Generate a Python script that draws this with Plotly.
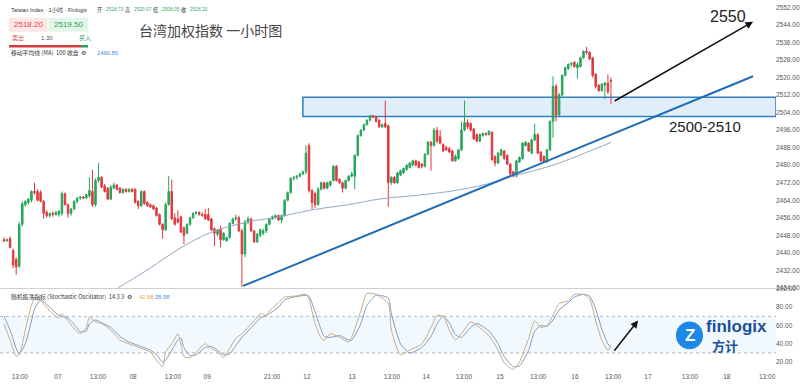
import plotly.graph_objects as go

# ---------------- data ----------------
opens = [2446, 2445.5, 2446.5, 2441, 2437, 2434, 2453, 2462, 2463, 2464,
         2468, 2468, 2467.5, 2463.5, 2458.5, 2457, 2458, 2457.5, 2457.5, 2458,
         2467, 2462, 2458, 2460, 2463.5, 2465, 2465.5, 2465, 2466, 2468,
         2462, 2473, 2474.5, 2470.5, 2469.5, 2464.5, 2469.5, 2471, 2469.5, 2467.5,
         2469, 2468, 2469, 2469, 2463.5, 2461.5, 2468, 2463, 2462, 2461.5,
         2460.5, 2457.5, 2453, 2450.5, 2462, 2468, 2456, 2455.5, 2456.5, 2451.5,
         2449, 2453, 2456, 2458, 2458.5, 2457.5, 2457.5, 2457.5, 2455.5, 2451,
         2448.5, 2451, 2446, 2445.5, 2447, 2453.5, 2455.5, 2456, 2450, 2439.5,
         2454, 2455.5, 2450, 2445, 2448, 2449, 2450, 2453, 2455.5, 2456,
         2457, 2455, 2457, 2464, 2467.5, 2474, 2474.5, 2475, 2476, 2477,
         2489, 2468.5, 2467, 2462, 2469, 2472, 2469.5, 2471, 2473, 2479.5,
         2473.5, 2472, 2469.5, 2473, 2475, 2475, 2484.5, 2493.5, 2496, 2498.5,
         2500.5, 2502.5, 2502, 2500.5, 2497.5, 2499, 2498, 2472, 2474.5, 2472,
         2475.5, 2476.5, 2478, 2479, 2480, 2482, 2481.5, 2480.5, 2479.5, 2485,
         2490.5, 2489, 2496, 2493, 2489.5, 2488, 2487.5, 2486.5, 2482, 2483,
         2487, 2496, 2499.5, 2499, 2496.5, 2494, 2491, 2493.5, 2494.5, 2494,
         2495, 2484, 2481, 2484.5, 2486.5, 2484.5, 2480.5, 2477, 2475, 2481.5,
         2483, 2489, 2490, 2485.5, 2491.5, 2494, 2486, 2484, 2481.5, 2487,
         2500, 2516, 2503, 2512, 2521, 2524, 2526, 2527, 2524.5, 2525,
         2529, 2532, 2531.5, 2529, 2521.5, 2516.5, 2514, 2516.5, 2517.5, 2518.7]
highs = [2447, 2446.5, 2447.5, 2442, 2438, 2454, 2463.5, 2464, 2465, 2468.5,
         2472, 2469, 2468.5, 2464, 2459.5, 2458.5, 2459, 2459, 2459.5, 2468,
         2467.5, 2462.5, 2460.5, 2464, 2465.5, 2466, 2466, 2467, 2474.5, 2478,
         2474, 2481, 2475, 2471.5, 2470, 2471, 2472, 2471.5, 2470, 2469.5,
         2469.5, 2469.5, 2469.5, 2469.5, 2464, 2468.5, 2468.5, 2463.5, 2462.5, 2462,
         2461, 2458, 2453.5, 2463, 2475, 2473.5, 2458, 2459.5, 2457, 2452,
         2453.5, 2456.5, 2458.5, 2459, 2459, 2458.5, 2460, 2460.5, 2456, 2451.5,
         2451, 2452.5, 2449.5, 2447.5, 2454, 2456, 2457.5, 2457, 2451, 2455,
         2456.5, 2456, 2450.5, 2449, 2451, 2451, 2453.5, 2456, 2457, 2457.5,
         2457.5, 2457.5, 2464.5, 2468, 2474.5, 2475, 2475.5, 2476.5, 2477.5, 2489,
         2490, 2469, 2468, 2470, 2472.5, 2472.5, 2472.5, 2473, 2480, 2480,
         2474, 2472.5, 2473.5, 2475.5, 2477, 2485, 2494, 2496.5, 2499, 2501,
         2503, 2503, 2502.5, 2501, 2499, 2509.5, 2498.5, 2475, 2475, 2477,
         2478, 2479, 2480.5, 2481.5, 2482.5, 2482.5, 2482, 2481, 2485.5, 2491,
         2491, 2497, 2497.5, 2496, 2490, 2489, 2488.5, 2487, 2485, 2487.5,
         2500, 2509.5, 2501, 2499.5, 2497, 2494.5, 2494.5, 2495, 2495, 2496,
         2495.5, 2484.5, 2486, 2487.5, 2487, 2485, 2481, 2477.5, 2482.5, 2484,
         2490.5, 2491, 2490.5, 2492, 2499, 2494.5, 2486.5, 2484.5, 2487.5, 2500.5,
         2520.5, 2517, 2513, 2521.5, 2525, 2526.5, 2527, 2527.5, 2527, 2529.5,
         2532.5, 2534, 2532, 2529.5, 2522, 2517, 2517.5, 2518, 2521.5, 2520.07]
lows = [2445, 2445, 2442, 2433, 2430, 2433, 2452, 2461, 2462, 2463,
        2466.5, 2463.5, 2463, 2455.5, 2456, 2456, 2456.5, 2457, 2456.5, 2457,
        2461.5, 2456, 2457, 2459.5, 2462.5, 2464, 2464.5, 2464.5, 2465, 2461,
        2461, 2472, 2469.5, 2467.5, 2464, 2464, 2469, 2468.5, 2467, 2467,
        2467.5, 2467.5, 2467.5, 2462.5, 2460, 2461, 2462, 2461, 2460.5, 2459.5,
        2456.5, 2452.5, 2446.5, 2450, 2461.5, 2455, 2452.5, 2453.5, 2449, 2444,
        2448.5, 2452.5, 2455.5, 2457.5, 2457, 2456.5, 2455, 2454.5, 2450, 2443,
        2447.5, 2442.5, 2445.5, 2445, 2446.5, 2453, 2454.5, 2449.5, 2424.5, 2438,
        2453, 2449.5, 2444.5, 2444.5, 2447, 2448, 2449, 2452.5, 2455, 2455.5,
        2454.5, 2453.5, 2456.5, 2463.5, 2467, 2473, 2473.5, 2474.5, 2475.5, 2476,
        2467.5, 2460, 2460.5, 2461.5, 2468.5, 2469, 2469, 2470, 2472.5, 2472.5,
        2471.5, 2467.5, 2469, 2472.5, 2474.5, 2469, 2484, 2493, 2495.5, 2498,
        2500, 2501.5, 2499.5, 2497, 2497, 2497, 2461, 2471, 2471.5, 2471.5,
        2475, 2476, 2477.5, 2478.5, 2479.5, 2479.5, 2478.5, 2478.5, 2479, 2484.5,
        2477.5, 2488.5, 2490, 2489.5, 2486, 2486.5, 2485.5, 2481.5, 2481.5, 2482.5,
        2486.5, 2495.5, 2496.5, 2495.5, 2491.5, 2490.5, 2490.5, 2493, 2493.5, 2493.5,
        2482, 2479.5, 2480.5, 2484, 2482.5, 2480, 2475, 2474.5, 2474.5, 2481,
        2482.5, 2488.5, 2486, 2485, 2491, 2485, 2481.5, 2481, 2481, 2486.5,
        2492.5, 2500, 2502.5, 2511.5, 2520.5, 2523.5, 2525, 2524.5, 2519.5, 2524.5,
        2528.5, 2530.5, 2528, 2520, 2515, 2513.5, 2513.5, 2510, 2512.5, 2508.05]
closes = [2445.5, 2446, 2442.5, 2434.5, 2433.5, 2453, 2462.5, 2463.5, 2464.5, 2468,
          2467.5, 2464, 2463.5, 2458, 2457, 2458, 2457.5, 2458.5, 2459, 2467,
          2462, 2458, 2460, 2463.5, 2465, 2465.5, 2465, 2466.5, 2468.5, 2462,
          2473, 2474.5, 2470, 2468, 2464.5, 2470, 2471, 2469, 2467.5, 2469,
          2468, 2469, 2468, 2463, 2461.5, 2468, 2462.5, 2461.5, 2461, 2460,
          2457, 2453, 2450.5, 2462, 2468, 2455.5, 2453, 2454, 2449.5, 2448,
          2453, 2456, 2458, 2458.5, 2457.5, 2457, 2455.5, 2455, 2450.5, 2449,
          2450.5, 2446, 2449, 2447, 2453.5, 2455.5, 2456, 2450, 2439.5, 2454,
          2455.5, 2450, 2445, 2448.5, 2450.5, 2450, 2453, 2455.5, 2456.5, 2457,
          2455, 2457, 2464, 2467.5, 2474, 2474.5, 2475, 2476, 2477, 2485.5,
          2468.5, 2463, 2462, 2469, 2472, 2469.5, 2472, 2472.5, 2479.5, 2473,
          2472, 2469.5, 2473, 2475, 2476, 2484.5, 2493.5, 2496, 2498.5, 2500.5,
          2502.5, 2502, 2500, 2497.5, 2498.5, 2497.5, 2472, 2474.5, 2472, 2476.5,
          2477.5, 2478.5, 2480, 2481, 2482, 2480, 2479, 2479.5, 2485, 2490.5,
          2489, 2496, 2491, 2490, 2486.5, 2487, 2486, 2482, 2484, 2487,
          2496, 2499.5, 2497.5, 2496, 2492, 2491, 2494, 2494.5, 2494, 2495.5,
          2482.5, 2481, 2485.5, 2487, 2483, 2480.5, 2476, 2475, 2482, 2483.5,
          2490, 2490.5, 2486.5, 2491.5, 2494, 2485.5, 2482, 2481.5, 2487, 2500,
          2516, 2503, 2512, 2521, 2524.5, 2526, 2526.5, 2525, 2526, 2529,
          2532, 2531.5, 2528.5, 2521, 2516, 2514, 2517, 2517.5, 2513.5, 2518.2]
bars = list(range(len(closes)))

# MA(100)
ma_idx = [37.4, 47.9, 57.7, 68.5, 80.7, 90.5, 101.3, 112.5, 123.3, 136.4, 147.2, 158.4, 166.9, 180, 191.1, 199]
ma_val = [2424.0, 2433.0, 2442.1, 2449.7, 2454.3, 2456.5, 2459.7, 2461.9, 2464.6, 2466.4, 2468.3, 2471.4,
          2475.0, 2480.0, 2485.9, 2490.4]

# Stochastic oscillator (14,3,3)
st_idx = [0, 2, 4, 5, 7, 9, 10, 12, 15, 18, 19, 21, 24, 25, 27, 28, 30, 32, 35, 38,
          41, 45, 48, 50, 52, 53, 55, 57, 58, 59, 61, 63, 66, 68, 70, 72, 74, 76, 78, 80,
          82, 84, 86, 87, 90, 92, 95, 99, 100, 102, 104, 105, 107, 110, 113, 114, 117, 119, 122, 126,
          127, 130, 133, 137, 140, 142, 144, 146, 148, 150, 153, 155, 159, 162, 164, 167, 169, 172, 174, 176,
          178, 180, 182, 185, 187, 190, 192, 194, 196, 198, 199]
st_k = [62, 44, 26.5, 28, 55, 82, 89, 87, 76, 68, 73, 65, 53, 51, 58, 69, 64, 62, 55, 44,
        40, 35, 31, 22, 15, 31, 40, 51, 40, 26, 25, 31, 40, 35, 31, 25, 35, 46, 51, 58,
        65, 73, 71, 76, 85, 91, 92, 94, 89, 62, 46, 44, 51, 47, 42, 47, 76, 95, 94, 84,
        55, 28, 33, 40, 58, 71, 70, 55, 44, 51, 64, 60, 49, 33, 19, 12, 20, 46, 65, 58,
        60, 71, 84, 87, 94, 94, 89, 65, 44, 33, 38]
st_d = [70, 55, 35, 29, 40, 65, 78, 88, 80, 71, 70, 68, 57, 53, 54, 62, 66, 63, 58, 48,
        42, 37, 33, 28, 20, 22, 33, 44, 46, 36, 27, 28, 36, 37, 33, 28, 29, 38, 47, 54,
        61, 68, 71, 73, 80, 88, 91, 93, 92, 75, 55, 48, 47, 49, 44, 44, 62, 82, 93, 90,
        73, 40, 30, 36, 48, 62, 70, 63, 50, 47, 58, 62, 54, 40, 26, 15, 16, 33, 54, 60,
        59, 66, 77, 85, 91, 94, 92, 78, 56, 40, 36]

# axis ticks
x_tick_pos = [5.2, 17.7, 30.8, 42.3, 55.4, 66.6, 87.9, 99.3, 114.1, 127.2, 138.4, 150.8,
              162.6, 175.1, 187.2, 199.7, 211.1, 224.9, 237.0, 250.2]
x_tick_txt = ["13:00", "07", "13:00", "08", "13:00", "09", "21:00", "12", "13", "13:00", "14", "13:00",
              "15", "13:00", "16", "13:00", "17", "13:00", "18", "13:00"]
price_ticks = list(range(2424, 2553, 8))
stoch_ticks = [20, 40, 60, 80, 100]

# drawings (bar index, price)
zone = [98.0, 2502.2, 2511.0]
trend = [(78.4, 2424.9), (245.6, 2520.6)]
arrow_main = [(199.7, 2508.9), (245.6, 2545.5)]
arrow_stoch = [(199.7, 30.8), (207.9, 65.4)]

# ---------------- layout geometry ----------------
W, H = 800, 388
ML, MR, MT, MB = 0, 24, 0, 17
PW, PH = W - ML - MR, H - MT - MB
X_MIN, X_MAX = -1.31, 253.11


def pp(px, py):
    return (px - ML) / PW, (PH - (py - MT)) / PH


FONT = "Liberation Sans, Arial, Noto Sans CJK SC, sans-serif"
CJK = "Noto Sans CJK SC, Liberation Sans, sans-serif"
GREEN = "#26a65b"
RED = "#e0393e"

fig = go.Figure()
fig.add_trace(go.Candlestick(
    x=bars, open=opens, high=highs, low=lows, close=closes,
    increasing=dict(line=dict(color=GREEN, width=1), fillcolor=GREEN),
    decreasing=dict(line=dict(color=RED, width=1), fillcolor=RED),
    whiskerwidth=0, xaxis="x", yaxis="y", showlegend=False, hoverinfo="skip"))
fig.add_trace(go.Scatter(x=ma_idx, y=ma_val, mode="lines", line=dict(color="#93a9c2", width=1, shape="spline"),
                         xaxis="x", yaxis="y", showlegend=False, hoverinfo="skip"))
fig.add_trace(go.Scatter(x=st_idx, y=st_d, mode="lines",
                         line=dict(color="#7e9cc0", width=1, shape="spline", smoothing=0.6),
                         xaxis="x2", yaxis="y2", showlegend=False, hoverinfo="skip"))
fig.add_trace(go.Scatter(x=st_idx, y=st_k, mode="lines",
                         line=dict(color="#c7ab82", width=1, shape="spline", smoothing=0.6),
                         xaxis="x2", yaxis="y2", showlegend=False, hoverinfo="skip"))

shapes = []
# stochastic band and levels
shapes.append(dict(type="rect", xref="x2", yref="y2", x0=X_MIN, x1=X_MAX, y0=30, y1=70,
                   fillcolor="rgba(33,150,243,0.06)", line=dict(width=0), layer="below"))
for lv in (30, 70):
    shapes.append(dict(type="line", xref="x2", yref="y2", x0=X_MIN, x1=X_MAX, y0=lv, y1=lv,
                       line=dict(color="#b5b5b5", width=1, dash="dot"), layer="below"))
# support zone
shapes.append(dict(type="rect", xref="x", yref="y", x0=zone[0], x1=X_MAX, y0=zone[1], y1=zone[2],
                   fillcolor="rgba(200,224,245,0.55)", line=dict(color="#2f7fc0", width=1.5), layer="below"))
# trend line
shapes.append(dict(type="line", xref="x", yref="y", x0=trend[0][0], y0=trend[0][1],
                   x1=trend[1][0], y1=trend[1][1], line=dict(color="#1f6db5", width=2)))


def prect(x0, y0, x1, y1, color):
    a0, b0 = pp(x0, y1)
    a1, b1 = pp(x1, y0)
    return dict(type="rect", xref="paper", yref="paper", x0=a0, y0=b0, x1=a1, y1=b1,
                fillcolor=color, line=dict(width=0))


shapes.append(prect(9, 14, 47.5, 28, "#fde6e6"))
shapes.append(prect(48.5, 14, 88, 28, "#e3f5e8"))
shapes.append(prect(9, 41.5, 81, 44, "#d63a3a"))
shapes.append(prect(81, 41.5, 88, 44, "#2e9d55"))
# logo circle
c0 = pp(676, 349)
c1 = pp(703, 321)
shapes.append(dict(type="circle", xref="paper", yref="paper", x0=c0[0], y0=c0[1], x1=c1[0], y1=c1[1],
                   fillcolor="#1e88e5", line=dict(width=0)))

ann = []


def ptext(px, py, text, size=6.5, color="#333", anchor="left", family=FONT, bold=False, pad=1):
    x, y = pp(px, py)
    t = f"<b>{text}</b>" if bold else text
    ann.append(dict(xref="paper", yref="paper", x=x, y=y, text=t, showarrow=False, borderpad=pad,
                    xanchor=anchor, yanchor="middle", font=dict(size=size, color=color, family=family)))


VAL = "#3aa86b"
ptext(9, 6, "Taiwan Index · 1小时 · Finlogix", 5.6, "#333")
for px_, lab in ((95, "开"), (123, "高"), (151, "低"), (179, "收")):
    ptext(px_, 6, lab, 5.2, "#333", family=CJK)
for px_, v in ((104, "2518.70"), (132, "2520.07"), (160, "2508.05"), (188, "2518.20")):
    ptext(px_, 6, v, 4.8, VAL)
ptext(28.3, 21, "2518.20", 8, "#e04848", "center")
ptext(68.2, 21, "2519.50", 8, "#2e9d55", "center")
ptext(10, 34, "卖出", 6, "#e04848", family=CJK)
ptext(47, 34, "1.30", 6, "#555", "center")
ptext(77, 34, "买入", 6, "#2e9d55", family=CJK)
ptext(9, 49.5, "移动平均线 (MA)  100 收盘  ⚙", 5.8, "#333", family=CJK)
ptext(95, 49.5, "2490.85", 5.8, "#3d8fd6")
ptext(137, 26.5, "台湾加权指数 一小时图", 14, "#444", family=CJK)
ptext(9, 296, "随机振荡指标 (Stochastic Oscillator)  14 3 3  ⚙", 5.8, "#333", family=CJK)
ptext(137, 296, "42.68", 5.8, "#e8a33c")
ptext(153, 296, "35.98", 5.8, "#3d8fd6")
# logo
ptext(689.5, 335, "Z", 17, "white", "center", bold=True)
ptext(705, 326.5, "finlogix", 17, "#1a4f9c", bold=True, pad=0)
ptext(711, 345, "方计", 13, "#1a4f9c", family=CJK, bold=True, pad=0)

# big labels on chart
ann.append(dict(xref="x", yref="y", x=237.4, y=2548, text="2550", showarrow=False,
                font=dict(size=16, color="#222", family=FONT)))
ann.append(dict(xref="x", yref="y", x=229.8, y=2497.6, text="2500-2510", showarrow=False,
                font=dict(size=15, color="#222", family=FONT)))
# arrows
ann.append(dict(xref="x", yref="y", axref="x", ayref="y",
                x=arrow_main[1][0], y=arrow_main[1][1], ax=arrow_main[0][0], ay=arrow_main[0][1],
                text="", showarrow=True, arrowhead=2, arrowsize=1, arrowwidth=1.5, arrowcolor="#111"))
ann.append(dict(xref="x2", yref="y2", axref="x2", ayref="y2",
                x=arrow_stoch[1][0], y=arrow_stoch[1][1], ax=arrow_stoch[0][0], ay=arrow_stoch[0][1],
                text="", showarrow=True, arrowhead=2, arrowsize=1, arrowwidth=1.5, arrowcolor="#111"))

price_dom = [(PH - 287) / PH, 1.0]
stoch_dom = [0.0, (PH - 288) / PH]

AXFONT = dict(size=6.5, color="#555", family=FONT)
fig.update_layout(
    width=W, height=H, margin=dict(l=ML, r=MR, t=MT, b=MB),
    paper_bgcolor="white", plot_bgcolor="white",
    font=dict(family=FONT, size=7, color="#555"),
    shapes=shapes, annotations=ann, showlegend=False,
    xaxis=dict(domain=[0, 1], range=[X_MIN, X_MAX], anchor="y", showticklabels=False, showgrid=False,
               zeroline=False, rangeslider=dict(visible=False), showline=True, linecolor="#cfcfcf",
               linewidth=1, ticks=""),
    xaxis2=dict(domain=[0, 1], range=[X_MIN, X_MAX], anchor="y2", matches="x", showgrid=False,
                zeroline=False, tickmode="array", tickvals=x_tick_pos, ticktext=x_tick_txt,
                tickfont=AXFONT, ticks="", showline=False, rangeslider=dict(visible=False)),
    yaxis=dict(domain=price_dom, range=[2424, 2553.57], side="right", anchor="x", tickmode="array",
               tickvals=price_ticks, tickformat=".2f", tickfont=AXFONT, ticklabelstandoff=-1,
               showgrid=False, zeroline=False, ticks=""),
    yaxis2=dict(domain=stoch_dom, range=[10.27, 100], side="right", anchor="x2", tickmode="array",
                tickvals=stoch_ticks, tickformat=".2f", tickfont=AXFONT, ticklabelstandoff=-1,
                showgrid=False, zeroline=False, ticks=""),
)

fig.write_html("out.html", config={"displayModeBar": False},
               post_script="document.body.style.margin='0px';document.body.style.padding='0px';"
                           "document.body.style.overflow='hidden';")
